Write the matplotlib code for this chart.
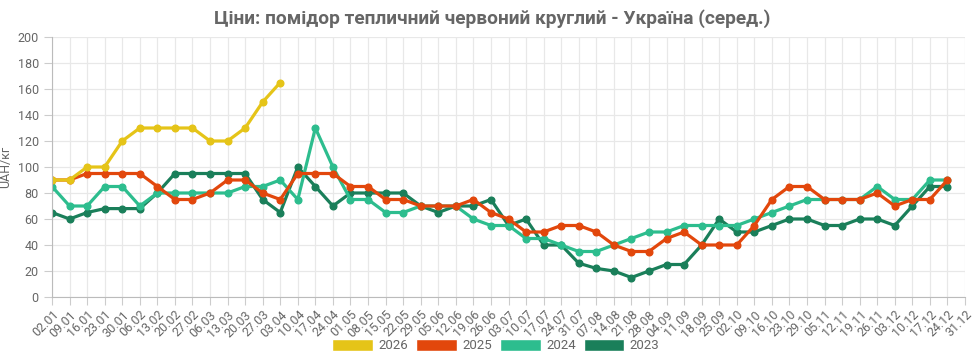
import matplotlib.pyplot as plt
from matplotlib.patches import Patch

plt.rcParams['font.family'] = ['Roboto', 'DejaVu Sans']

dates = ['02.01', '09.01', '16.01', '23.01', '30.01',
         '06.02', '13.02', '20.02', '27.02',
         '06.03', '13.03', '20.03', '27.03',
         '03.04', '10.04', '17.04', '24.04',
         '01.05', '08.05', '15.05', '22.05', '29.05',
         '05.06', '12.06', '19.06', '26.06',
         '03.07', '10.07', '17.07', '24.07', '31.07',
         '07.08', '14.08', '21.08', '28.08',
         '04.09', '11.09', '18.09', '25.09',
         '02.10', '09.10', '16.10', '23.10', '29.10',
         '05.11', '12.11', '19.11', '26.11',
         '03.12', '10.12', '17.12', '24.12', '31.12']

y2026 = [90, 90, 100, 100, 120, 130, 130, 130, 130, 120, 120, 130, 150, 165]

y2025 = [90, 90, 95, 95, 95, 95, 85, 75, 75, 80, 90, 90, 80,
         75, 95, 95, 95, 85, 85, 75, 75, 70, 70, 70, 75, 65,
         60, 50, 50, 55, 55, 50, 40, 35, 35, 45, 50, 40, 40,
         40, 55, 75, 85, 85, 75, 75, 75, 80, 70, 75, 75, 90]

y2024 = [85, 70, 70, 85, 85, 70, 80, 80, 80, 80, 80, 85, 85,
         90, 75, 130, 100, 75, 75, 65, 65, 70, 70, 70, 60, 55,
         55, 45, 45, 40, 35, 35, 40, 45, 50, 50, 55, 55, 55,
         55, 60, 65, 70, 75, 75, 75, 75, 85, 75, 75, 90, 90]

y2023 = [65, 60, 65, 68, 68, 68, 80, 95, 95, 95, 95, 95, 75,
         65, 100, 85, 70, 80, 80, 80, 80, 70, 65, 70, 70, 75,
         55, 60, 40, 40, 26, 22, 20, 15, 20, 25, 25, 40, 60,
         50, 50, 55, 60, 60, 55, 55, 60, 60, 55, 70, 85, 85]

series = [('2026', y2026, '#e5c418'),
          ('2025', y2025, '#e2470c'),
          ('2024', y2024, '#2dbd8e'),
          ('2023', y2023, '#1a7f5a')]

fig = plt.figure(figsize=(9.74, 3.61), dpi=100)
ax = fig.add_axes([52 / 974, 64 / 361, 913 / 974, 260 / 361])

# older years first so 2026 ends up on top
for name, vals, col in reversed(series):
    ax.plot(range(len(vals)), vals, color=col, lw=2.3, marker='o', ms=4.8,
            solid_joinstyle='round')

ax.set_xlim(0, len(dates) - 1)
ax.set_ylim(0, 200)
ax.set_yticks(range(0, 201, 20))
ax.set_xticks(range(len(dates)))
ax.set_xticklabels(dates, rotation=45, ha='right', rotation_mode='anchor')
ax.tick_params(axis='both', colors='#cccccc', labelcolor='#666666', labelsize=9, length=6)
ax.tick_params(axis='x', pad=2)
ax.grid(True, color='#e8e8e8', lw=0.9)
ax.set_axisbelow(True)
for s in ['top', 'right']:
    ax.spines[s].set_visible(False)
for s in ['left', 'bottom']:
    ax.spines[s].set_color('#bbbbbb')

ax.set_ylabel('UAH/кг', color='#666666', fontsize=9, labelpad=4)

fig.text(0.505, 0.948, 'Ціни: помідор тепличний червоний круглий - Україна (серед.)',
         ha='center', va='center', fontsize=13.8, fontweight='bold', color='#666666')

handles = [Patch(facecolor=c, edgecolor='white', label=n) for n, v, c in series]
fig.legend(handles=handles, loc='center', bbox_to_anchor=(0.509, 0.043), ncol=4,
           frameon=False, fontsize=9.5, handlelength=3.1, handleheight=1.05,
           columnspacing=0.6, handletextpad=0.4, labelcolor='#666666')

fig.savefig('out.png', dpi=100)
